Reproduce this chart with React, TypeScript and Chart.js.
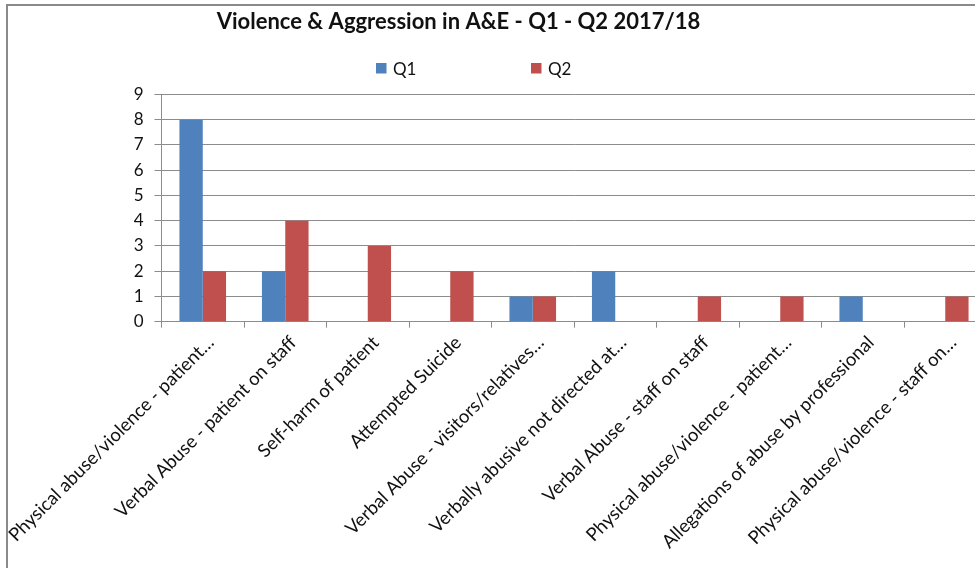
import React, { useEffect, useRef } from "react";
import { Chart, registerables } from "chart.js";

Chart.register(...registerables);

const TITLE = "Violence & Aggression in A&E - Q1 - Q2 2017/18";

const categories = [
  "Physical abuse/violence - patient…",
  "Verbal Abuse - patient on staff",
  "Self-harm of patient",
  "Attempted Suicide",
  "Verbal Abuse - visitors/relatives…",
  "Verbally abusive not directed at…",
  "Verbal Abuse - staff on staff",
  "Physical abuse/violence - patient…",
  "Allegations of abuse by professional",
  "Physical abuse/violence - staff on…",
];

const seriesLabels = ["Q1", "Q2"];
const q1Values = [8, 2, 0, 0, 1, 2, 0, 0, 1, 0];
const q2Values = [2, 4, 3, 2, 1, 0, 1, 1, 0, 1];
const seriesColors = ["#4F81BD", "#C0504D"];

const yMin = 0;
const yMax = 9;
const yStep = 1;

const CANVAS_W = 990;
const CANVAS_H = 562;
const GRID = "#8c8c8c";
const TEXT = "#111111";
const FONT = "Lato, 'Open Sans', sans-serif";

const LEGEND_X = [368, 523];

const headerPlugin = {
  id: "header",
  afterDraw(chart: any) {
    const ctx = chart.ctx as CanvasRenderingContext2D;
    ctx.save();
    ctx.fillStyle = TEXT;
    ctx.font = `bold 22px ${FONT}`;
    ctx.textAlign = "center";
    ctx.textBaseline = "alphabetic";
    ctx.fillText(TITLE, 450.5, 22.5);
    ctx.font = `17px ${FONT}`;
    ctx.textAlign = "left";
    chart.data.datasets.forEach((ds: any, i: number) => {
      const x = LEGEND_X[i];
      ctx.fillStyle = ds.backgroundColor;
      ctx.fillRect(x, 57, 10.5, 10.5);
      ctx.fillStyle = TEXT;
      ctx.fillText(ds.label, x + 17, 69);
    });
    ctx.restore();
  },
};

export default function App() {
  const ref = useRef<HTMLCanvasElement | null>(null);

  useEffect(() => {
    if (!ref.current) return;
    const chart = new Chart(ref.current, {
      type: "bar",
      data: {
        labels: categories,
        datasets: [
          {
            label: seriesLabels[0],
            data: q1Values,
            backgroundColor: seriesColors[0],
            borderWidth: 0,
            categoryPercentage: 0.565,
            barPercentage: 1,
          },
          {
            label: seriesLabels[1],
            data: q2Values,
            backgroundColor: seriesColors[1],
            borderWidth: 0,
            categoryPercentage: 0.565,
            barPercentage: 1,
          },
        ],
      },
      options: {
        responsive: false,
        animation: false,
        devicePixelRatio: 1,
        layout: { padding: { top: 88.5, right: 11.5, left: 0, bottom: 0 } },
        plugins: {
          legend: { display: false },
          title: { display: false },
          tooltip: { enabled: false },
        },
        scales: {
          x: {
            grid: {
              display: true,
              drawOnChartArea: false,
              drawTicks: true,
              tickLength: 6,
              color: GRID,
              offset: true,
            },
            border: { display: true, color: GRID },
            ticks: {
              autoSkip: false,
              minRotation: 45,
              maxRotation: 45,
              padding: 4,
              labelOffset: 8,
              color: TEXT,
              font: { family: FONT, size: 18.5 },
            },
            afterFit(scale: any) {
              scale.height = 246.3;
              scale.paddingLeft = 0;
              scale.paddingRight = 0;
            },
          },
          y: {
            min: yMin,
            max: yMax,
            grid: {
              color: GRID,
              drawTicks: true,
              tickLength: 7,
            },
            border: { display: true, color: GRID },
            ticks: {
              stepSize: yStep,
              padding: 11,
              color: TEXT,
              font: { family: FONT, size: 17 },
            },
            afterFit(scale: any) {
              scale.width = 153.5;
              scale.paddingTop = 0;
              scale.paddingBottom = 0;
            },
          },
        },
      },
      plugins: [headerPlugin],
    });
    return () => chart.destroy();
  }, []);

  return (
    <div
      style={{
        position: "fixed",
        left: 0,
        top: 0,
        width: 975,
        height: 568,
        overflow: "hidden",
        background: "#ffffff",
      }}
    >
      <div
        style={{
          position: "absolute",
          left: 6,
          top: 4,
          borderLeft: "2px solid #8a8a8a",
          borderTop: "2px solid #8a8a8a",
          width: CANVAS_W,
          height: CANVAS_H,
        }}
      >
        <canvas
          ref={ref}
          width={CANVAS_W}
          height={CANVAS_H}
          style={{ display: "block", width: CANVAS_W, height: CANVAS_H }}
        />
      </div>
    </div>
  );
}
